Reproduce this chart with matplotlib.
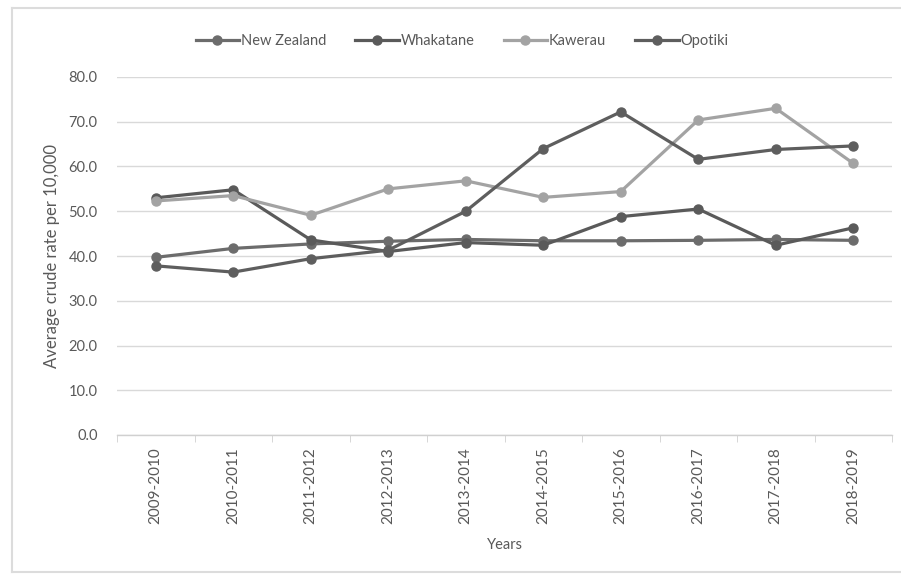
import matplotlib
matplotlib.use("Agg")
import matplotlib.pyplot as plt
from matplotlib.lines import Line2D

plt.rcParams['font.family'] = ['Lato', 'DejaVu Sans']

years = ["2009-2010", "2010-2011", "2011-2012", "2012-2013", "2013-2014",
         "2014-2015", "2015-2016", "2016-2017", "2017-2018", "2018-2019"]
new_zealand = [39.7, 41.7, 42.7, 43.3, 43.7, 43.4, 43.4, 43.5, 43.7, 43.5]
whakatane = [53.0, 54.8, 43.6, 41.0, 43.0, 42.4, 48.8, 50.5, 42.4, 46.3]
kawerau = [52.3, 53.5, 49.1, 55.0, 56.8, 53.1, 54.4, 70.4, 73.0, 60.7]
opotiki = [37.8, 36.4, 39.4, 41.3, 50.0, 64.0, 72.2, 61.6, 63.8, 64.6]

series = [("New Zealand", new_zealand, "#6c6c6c"),
          ("Whakatane", whakatane, "#5a5a5a"),
          ("Kawerau", kawerau, "#a3a3a3"),
          ("Opotiki", opotiki, "#5e5e5e")]

W, H = 901, 576
fig = plt.figure(figsize=(W / 100, H / 100), dpi=100)
for xs, ys in [((12, 12), (8, 572)), ((12, W), (8, 8)), ((12, W), (572, 572))]:
    fig.add_artist(Line2D([x / W for x in xs], [1 - y / H for y in ys],
                          transform=fig.transFigure, color="#dcdcdc", linewidth=1.5))

ax = fig.add_axes([117 / W, (H - 435) / H, (892 - 117) / W, (435 - 77) / H])

x = list(range(len(years)))
for name, vals, col in series:
    ax.plot(x, vals, color=col, linewidth=2.3, marker='o', markersize=6.5,
            label=name, zorder=3)

ax.set_xlim(-0.5, len(years) - 0.5)
ax.set_ylim(0, 80)
ax.set_yticks(range(0, 81, 10))
ax.set_yticklabels([f"{v:.1f}" for v in range(0, 81, 10)])
ax.set_xticks(x)
ax.set_xticklabels(years, rotation=90)
ax.grid(axis='y', color='#d9d9d9', linewidth=1.0)
ax.set_axisbelow(True)
for s in ['top', 'right', 'left']:
    ax.spines[s].set_visible(False)
ax.spines['bottom'].set_color('#d0d0d0')
ax.spines['bottom'].set_linewidth(1.0)
ax.tick_params(axis='y', length=0, pad=14, labelsize=10.5, labelcolor='#595959')
ax.tick_params(axis='x', length=0, pad=9, labelsize=11, labelcolor='#595959')
ax.set_xticks([i - 0.5 for i in range(len(years) + 1)], minor=True)
ax.tick_params(axis='x', which='minor', length=5, color='#d0d0d0')

ax.set_ylabel("Average crude rate per 10,000", fontsize=12, color='#595959', labelpad=6)
ax.set_xlabel("Years", fontsize=10.5, color='#595959', labelpad=10)

fig.legend(loc='center', bbox_to_anchor=(462 / W, 1 - 41 / H), ncol=4,
           frameon=False, fontsize=10.5, handlelength=3.0, columnspacing=2.0,
           handletextpad=0.1, labelcolor='#595959')

fig.savefig("out.png", dpi=100)
